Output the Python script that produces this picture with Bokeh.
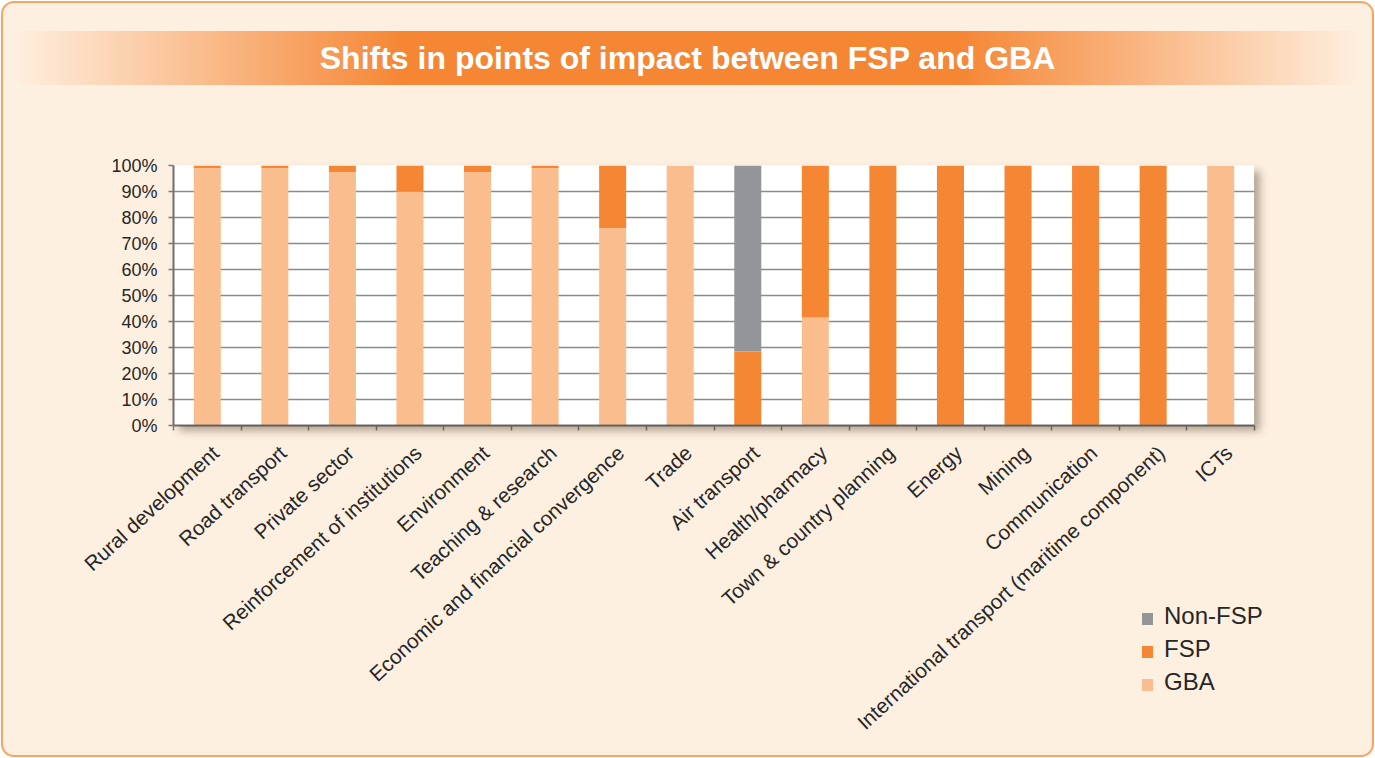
import math
from bokeh.plotting import figure
from bokeh.models import FixedTicker, Div, Range1d, ColumnDataSource, GridBox
from bokeh.layouts import column
from bokeh.embed import file_html
from bokeh.resources import INLINE

title_text = "Shifts in points of impact between FSP and GBA"
categories = [
    "Rural development", "Road transport", "Private sector",
    "Reinforcement of institutions", "Environment", "Teaching & research",
    "Economic and financial convergence", "Trade", "Air transport",
    "Health/pharmacy", "Town & country planning", "Energy", "Mining",
    "Communication", "International transport (maritime component)", "ICTs",
]
gba = [99, 99, 97.5, 90, 97.5, 99, 76, 100, 0, 41.5, 0, 0, 0, 0, 0, 100]
fsp = [1, 1, 2.5, 10, 2.5, 1, 24, 0, 28.5, 58.5, 100, 100, 100, 100, 100, 0]
non_fsp = [0, 0, 0, 0, 0, 0, 0, 0, 71.5, 0, 0, 0, 0, 0, 0, 0]
series_names = ["GBA", "FSP", "Non-FSP"]
series_colors = ["#FABD8E", "#F58634", "#939598"]
y_ticks = [0, 10, 20, 30, 40, 50, 60, 70, 80, 90, 100]
y_tick_labels = ["0%", "10%", "20%", "30%", "40%", "50%", "60%", "70%", "80%", "90%", "100%"]

FONT = "Liberation Sans"
TXT = "#262626"
BG = "#FEF0E1"

# layout constants (pixels)
W, H = 1371, 654
FL, FT, FW, FH = 171, 63, 1081, 260          # plot frame left/top/width/height
FR, FB = FL + FW, FT + FH

n = len(categories)
xs = [i + 0.5 for i in range(n)]
src = ColumnDataSource(dict(x=xs, gba=gba, fsp=fsp, non_fsp=non_fsp))

# ---------------- main chart ----------------
p = figure(width=W, height=H, output_backend="svg", toolbar_location=None,
           x_range=Range1d(0, n), y_range=Range1d(0, 100),
           min_border_left=FL, min_border_right=W - FR, min_border_top=FT,
           min_border_bottom=H - FB)
p.border_fill_color = None
p.background_fill_color = "white"
p.outline_line_color = None

p.vbar_stack(["gba", "fsp", "non_fsp"], x="x", width=0.4, source=src,
             color=series_colors, line_color=None)

label_shift = 0.12
label_pos = [x + label_shift for x in xs]
p.xaxis.ticker = FixedTicker(ticks=label_pos, minor_ticks=list(range(n + 1)))
p.xaxis.major_label_overrides = {lp: c for lp, c in zip(label_pos, categories)}
p.xaxis.major_label_orientation = math.radians(42.5)
p.xaxis.major_tick_line_color = None
p.xaxis.major_tick_in = 0
p.xaxis.major_tick_out = 0
p.xaxis.minor_tick_line_color = "#7a7a7a"
p.xaxis.minor_tick_line_width = 1.5
p.xaxis.minor_tick_in = 0
p.xaxis.minor_tick_out = 5
p.xaxis.major_label_standoff = 19
p.xaxis.axis_line_color = "#707070"
p.xaxis.axis_line_width = 2

p.yaxis.ticker = FixedTicker(ticks=y_ticks, minor_ticks=[])
p.yaxis.major_label_overrides = {t: l for t, l in zip(y_ticks, y_tick_labels)}
p.yaxis.major_tick_in = 0
p.yaxis.major_tick_out = 5
p.yaxis.major_tick_line_color = "#7a7a7a"
p.yaxis.major_tick_line_width = 1.5
p.yaxis.major_label_standoff = 11
p.yaxis.axis_line_color = "#707070"
p.yaxis.axis_line_width = 2

for ax in (p.xaxis, p.yaxis):
    ax.major_label_text_font = FONT
    ax.major_label_text_color = TXT
p.xaxis.major_label_text_font_size = "20.7px"
p.yaxis.major_label_text_font_size = "18px"

p.xgrid.visible = False
p.ygrid.ticker = FixedTicker(ticks=y_ticks)
p.ygrid.grid_line_color = "#8a8a8a"
p.ygrid.grid_line_width = 1.5

# ---------------- overlay: frame shadow + legend (HTML) ----------------
leg_left, leg_sq_top, leg_step = 1140, 511, 33
items_html = ""
for k, i in enumerate((2, 1, 0)):
    sq_top = leg_sq_top + k * leg_step
    items_html += (
        f'<div style="position:absolute;left:{leg_left}px;top:{sq_top}px;width:11px;height:12px;'
        f'background:{series_colors[i]};"></div>'
        f'<div style="position:absolute;left:{leg_left + 22}px;top:{sq_top - 9}px;height:24px;'
        f'line-height:24px;font-family:\'{FONT}\',Arial,sans-serif;font-size:24px;color:{TXT};'
        f'white-space:nowrap;">{series_names[i]}</div>'
    )
overlay_html = (
    f'<div style="position:relative;width:{W}px;height:{H}px;pointer-events:none;">'
    f'<div style="position:absolute;left:{FL}px;top:{FT}px;width:{FW}px;height:{FH}px;'
    f'box-shadow:6px 6px 8px rgba(80,60,40,0.42);"></div>'
    + items_html + '</div>'
)
overlay = Div(text=overlay_html, width=W, height=H, margin=0)

chart = GridBox(children=[(p, 0, 0), (overlay, 0, 0)])

banner_html = (
    '<div style="margin-top:29px;margin-left:10px;width:1351px;height:54px;'
    'line-height:54px;text-align:center;color:white;font-family:\'Liberation Sans\',Arial,sans-serif;'
    'font-weight:bold;font-size:32px;'
    'background:linear-gradient(to right,#FEF0E1 0%,#F58634 29%,#F58634 70%,#FEF0E1 100%);">'
    + title_text + '</div>'
)
banner = Div(text=banner_html, width=W, height=100, margin=0)

layout = column(banner, chart, width=W, height=754, spacing=0, margin=2,
                styles={"background-color": BG, "outline": "2px solid #F7A466",
                        "outline-offset": "-1px", "border-radius": "12px",
                        "overflow": "hidden"})

open("out.html", "w").write(file_html(layout, INLINE))
